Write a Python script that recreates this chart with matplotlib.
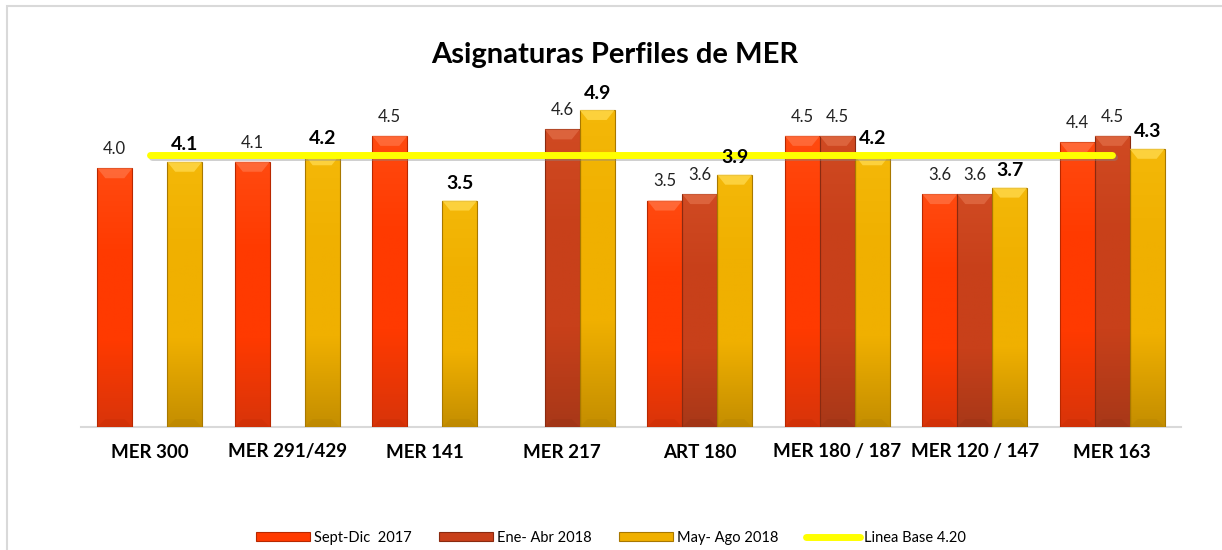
import numpy as np
import matplotlib
matplotlib.use("Agg")
import matplotlib.pyplot as plt
from matplotlib.patches import Rectangle, Polygon, Patch
from matplotlib.lines import Line2D
from matplotlib.colors import LinearSegmentedColormap
import matplotlib.patheffects as pe

plt.rcParams['font.family'] = ['Lato', 'DejaVu Sans']

categories = ["MER 300", "MER 291/429", "MER 141", "MER 217", "ART 180",
              "MER 180 / 187", "MER 120 / 147", "MER 163"]
sept_dic_2017 = [4.0, 4.1, 4.5, None, 3.5, 4.5, 3.6, 4.4]
ene_abr_2018 = [None, None, None, 4.6, 3.6, 4.5, 3.6, 4.5]
may_ago_2018 = [4.1, 4.2, 3.5, 4.9, 3.9, 4.2, 3.7, 4.3]
linea_base = 4.20
series_names = ["Sept-Dic  2017", "Ene- Abr 2018", "May- Ago 2018"]
title = "Asignaturas Perfiles de MER"

W, H = 1222, 550
fig = plt.figure(figsize=(W / 100, H / 100), dpi=100)
fig.patch.set_facecolor('white')

ax = fig.add_axes([81 / W, 123 / H, 1100 / W, (5.5 * 64.7) / H])
ax.set_xlim(-0.5, len(categories) - 0.5)
ax.set_ylim(0, 5.5)
ax.axis('off')

styles = [
    dict(top='#FF4A10', mid='#FF3A00', bot='#D8340A', edge='#B82800', bevel='#FF7040', bold=False),
    dict(top='#D04A22', mid='#C8401A', bot='#A83818', edge='#8A2A10', bevel='#E06A44', bold=False),
    dict(top='#F4B808', mid='#F0B000', bot='#C48E00', edge='#A87800', bevel='#FFD84A', bold=True),
]

bw = 0.254
offsets = [-bw, 0, bw]
sx = 1100 / 8.0   # px per x unit
sy = 64.7         # px per y unit

for si, (vals, st) in enumerate(zip([sept_dic_2017, ene_abr_2018, may_ago_2018], styles)):
    cmap = LinearSegmentedColormap.from_list('g', [st['bot'], st['mid'], st['mid'], st['top']])
    for ci, v in enumerate(vals):
        if v is None:
            continue
        x0 = ci + offsets[si] - bw / 2
        x1 = x0 + bw
        rect = Rectangle((x0, 0), bw, v, facecolor='none', edgecolor=st['edge'], lw=0.8, zorder=3)
        ax.add_patch(rect)
        grad = np.linspace(0, 1, 256).reshape(-1, 1)
        im = ax.imshow(grad, extent=(x0, x1, 0, v), origin='lower', cmap=cmap,
                       aspect='auto', zorder=2)
        im.set_clip_path(rect)
        # top bevel
        bh = 10 / sy
        bd = 8 / sx
        top = Polygon([(x0, v), (x1, v), (x1 - bd, v - bh), (x0 + bd, v - bh)],
                      closed=True, facecolor=st['bevel'], edgecolor='none', alpha=0.8, zorder=3)
        ax.add_patch(top)
        # bottom bevel (subtle darker)
        bot = Polygon([(x0, 0), (x1, 0), (x1 - bd, bh * 0.8), (x0 + bd, bh * 0.8)],
                      closed=True, facecolor=st['edge'], edgecolor='none', alpha=0.2, zorder=3)
        ax.add_patch(bot)
        if st['bold']:
            ax.annotate(f"{v:.1f}", (ci + offsets[si], v), xytext=(0, 6), textcoords='offset points',
                        ha='center', va='bottom', fontsize=14, fontweight='bold', color='black', zorder=6)
        else:
            ax.annotate(f"{v:.1f}", (ci + offsets[si], v), xytext=(0, 8), textcoords='offset points',
                        ha='center', va='bottom', fontsize=12, color='#222222', zorder=6)

# baseline axis
ax.plot([-0.5, len(categories) - 0.5], [0, 0], color='#D9D9D9', lw=1.5, zorder=1, clip_on=False)

# linea base
xs = np.arange(len(categories))
ax.plot(xs, [linea_base] * len(categories), color='#FFFF00', lw=5, solid_capstyle='round', zorder=5,
        path_effects=[pe.SimpleLineShadow(offset=(1.5, -1.5), shadow_color='#888888', alpha=0.4),
                      pe.Normal()])

# category labels
for i, c in enumerate(categories):
    ax.text(i, -25 / sy, c, ha='center', va='center', fontsize=13.5, fontweight='bold', color='black')

fig.text(615 / W, 1 - 55 / H, title, ha='center', va='center', fontsize=21, fontweight='bold', color='black')

# border
fig.add_artist(Rectangle((7 / W, -0.1), 1.2, 1 - 6 / H + 0.1, transform=fig.transFigure,
                         fill=False, edgecolor='#D9D9D9', lw=1.5))

handles = [Patch(facecolor=st['mid'], edgecolor=st['edge'], lw=0.8) for st in styles]
handles.append(Line2D([0], [0], color='#FFFF00', lw=5, solid_capstyle='round'))
labels = series_names + ["Linea Base 4.20"]
fig.legend(handles, labels, loc='center', bbox_to_anchor=(0.5, 12 / H), ncol=4, frameon=False,
           fontsize=10.5, handlelength=3.7, handleheight=0.6, columnspacing=1.9, handletextpad=0.25)

fig.savefig('out.png', dpi=100)
